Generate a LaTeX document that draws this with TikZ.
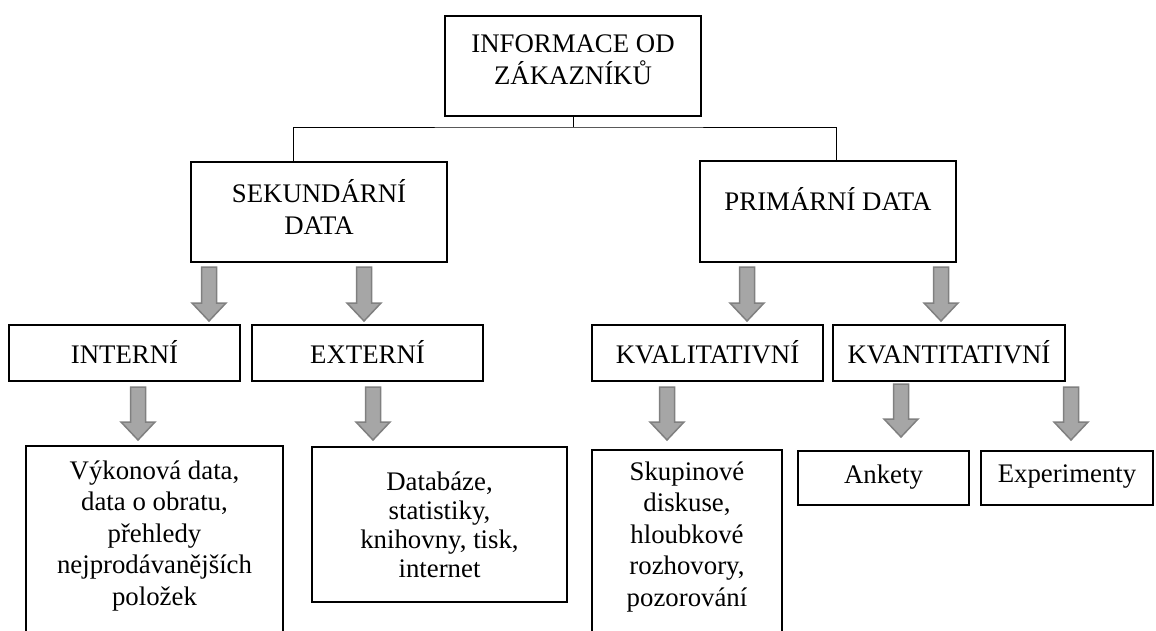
\documentclass[tikz,border=0pt]{standalone}
\usepackage{fontspec}
\setmainfont{Liberation Serif}
\definecolor{arrowfill}{HTML}{A6A6A6}
\definecolor{arrowedge}{HTML}{808080}
% rectangle node: name, centre x, centre y, width, height
\newcommand\framedbox[5]{\node[box, minimum width=#4pt, minimum height=#5pt] (#1) at (#2,#3) {};}
% downward block arrow: centre x, top y, tip y
\newcommand\downblock[3]{%
  \path[blockarrow] (#1-7.5,#2) -- (#1+7.5,#2) -- (#1+7.5,#3-18) -- (#1+17,#3-18)
    -- (#1,#3) -- (#1-17,#3-18) -- (#1-7.5,#3-18) -- cycle;}
\begin{document}
\begin{tikzpicture}[x=1pt,y=-1pt,
  box/.style={draw=black, line width=2.2pt, fill=white, inner sep=0pt},
  txt/.style={font=\fontsize{26.8}{31.5}\selectfont, align=center, inner sep=0pt},
  txtb/.style={font=\fontsize{26.8}{29}\selectfont, align=center, inner sep=0pt},
  conn/.style={draw=black, line width=1pt},
  blockarrow/.style={fill=arrowfill, draw=arrowedge, line width=1.5pt, line join=miter}]
\useasboundingbox (0,0) rectangle (1156,630);
\clip (0,0) rectangle (1156,630);

% level 0
\framedbox{root}{573}{66}{256}{100}
\node[txt] (root-t) at (573,60) {INFORMACE OD\\ZÁKAZNÍKŮ};

% level 1
\framedbox{sek}{319}{212}{256}{100}
\node[txt] (sek-t) at (319,207) {SEKUNDÁRNÍ\\DATA};
\framedbox{pri}{828}{211.5}{256}{101}
\node[txt] (pri-t) at (828,199) {PRIMÁRNÍ DATA};

% tree connector
\coordinate (bus) at (root.south |- 0,127);
\coordinate (sekin) at (293,162);
\coordinate (priin) at (836,161);
\draw[conn] (root.south) -- (bus);
\draw[conn] (sekin) |- (bus) -| (priin);

% level 2
\framedbox{int}{124.5}{353}{231}{56}
\node[txt] (int-t) at (124.5,352) {INTERNÍ};
\framedbox{ext}{367.5}{353}{231}{56}
\node[txt] (ext-t) at (367.5,352) {EXTERNÍ};
\framedbox{kval}{707.5}{353}{231}{56}
\node[txt] (kval-t) at (707.5,352) {KVALITATIVNÍ};
\framedbox{kvan}{949}{353}{232}{56}
\node[txt] (kvan-t) at (949,352) {KVANTITATIVNÍ};

\downblock{209}{267}{321}
\downblock{364}{267}{321}
\downblock{747}{267}{321}
\downblock{941}{267}{321}

% level 3
\framedbox{vyk}{154.5}{548}{257}{204}
\node[txt] (vyk-t) at (154.5,536) {Výkonová data,\\data o obratu,\\přehledy\\nejprodávanějších\\položek};
\framedbox{db}{439.5}{524.5}{255}{155}
\node[txtb] (db-t) at (439.5,525) {Databáze,\\statistiky,\\knihovny, tisk,\\internet};
\framedbox{sk}{687}{550}{190}{200}
\node[txt] (sk-t) at (687,537) {Skupinové\\diskuse,\\hloubkové\\rozhovory,\\pozorování};
\framedbox{ank}{883.5}{478}{171}{54}
\node[txt] (ank-t) at (883.5,477) {Ankety};
\framedbox{exp}{1067}{478}{172}{54}
\node[txt] (exp-t) at (1067,477) {Experimenty};

\downblock{138}{387}{440}
\downblock{373}{387}{440}
\downblock{667}{387}{440}
\downblock{901}{384}{437}
\downblock{1071}{387}{440}
\end{tikzpicture}
\end{document}
